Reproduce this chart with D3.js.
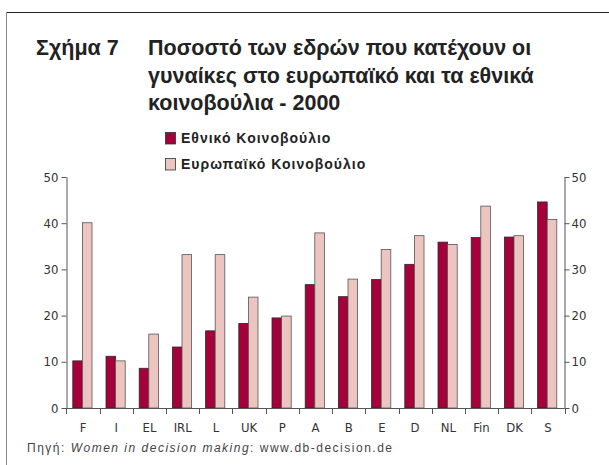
<!DOCTYPE html>
<html><head><meta charset="utf-8">
<script src="https://cdn.jsdelivr.net/npm/d3@7"></script>
<style>
body{margin:0;background:#fff;}
svg{display:block;}
</style></head>
<body>
<svg id="c" width="609" height="465"></svg>
<script>
const categories = ["F","I","EL","IRL","L","UK","P","A","B","E","D","NL","Fin","DK","S"];
const national = [10.2,11.2,8.6,13.2,16.7,18.3,19.5,26.7,24.1,27.8,31.1,35.9,36.9,37.0,44.6];
const european = [40.1,10.2,16.0,33.2,33.2,24.0,19.9,37.9,27.9,34.3,37.3,35.4,43.7,37.3,40.8];
const yTicks = [0,10,20,30,40,50];
const seriesNames = ["Εθνικό Κοινοβούλιο","Ευρωπαϊκό Κοινοβούλιο"];
const titleLines = ["Ποσοστό των εδρών που κατέχουν οι","γυναίκες στο ευρωπαϊκό και τα εθνικά","κοινοβούλια - 2000"];

const colNat = "#a6003a", colEu = "#edc5c0";
const svg = d3.select("#c");

// frame
svg.append("line").attr("x1",6.5).attr("x2",609).attr("y1",12.5).attr("y2",12.5).attr("stroke","#222").attr("stroke-width",1);
svg.append("line").attr("x1",6.5).attr("x2",6.5).attr("y1",12).attr("y2",465).attr("stroke","#888").attr("stroke-width",1);

// title
const tf = "'Liberation Sans', Arial, sans-serif";
svg.append("text").attr("x",36).attr("y",55).attr("font-family",tf).attr("font-weight",700).attr("font-size",21.5).attr("fill","#222").text("Σχήμα 7");
titleLines.forEach((t,i)=>{
  svg.append("text").attr("x",148).attr("y",55+i*27.5).attr("font-family",tf).attr("font-weight",700).attr("font-size",21.5).attr("fill","#222").text(t);
});

// legend
[colNat,colEu].forEach((c,i)=>{
  svg.append("rect").attr("x",165.5).attr("y",132.5+i*26).attr("width",10).attr("height",11.5).attr("fill",c).attr("stroke","#333").attr("stroke-width",0.8);
  svg.append("text").attr("x",181).attr("y",143+i*26).attr("font-family",tf).attr("font-weight",700).attr("font-size",14).attr("letter-spacing",1.0).attr("fill","#222").text(seriesNames[i]);
});

const x = d3.scaleBand().domain(categories).range([66.5,564.5]).padding(0);
const y = d3.scaleLinear().domain([0,50]).range([408,177]);
const bw = 9.6, off = 6.3;

const g = svg.append("g");
categories.forEach((c,i)=>{
  g.append("rect").attr("x",x(c)+off).attr("y",y(national[i])).attr("width",bw).attr("height",y(0)-y(national[i]))
    .attr("fill",colNat).attr("stroke","#2a2a2a").attr("stroke-width",0.8);
  g.append("rect").attr("x",x(c)+off+bw).attr("y",y(european[i])).attr("width",bw).attr("height",y(0)-y(european[i]))
    .attr("fill",colEu).attr("stroke","#555").attr("stroke-width",0.8);
});

const af = "'DejaVu Sans Condensed','DejaVu Sans',sans-serif";
const axisStyle = sel=>{
  sel.select(".domain").attr("stroke","#555");
  sel.selectAll(".tick line").attr("stroke","#555");
  sel.selectAll("text").attr("font-family",af).attr("font-size",13).attr("fill","#333");
};
svg.append("g").attr("transform","translate(66.5,0)")
  .call(d3.axisLeft(y).tickValues(yTicks).tickSize(5).tickSizeOuter(0).tickPadding(3)).call(axisStyle);
svg.append("g").attr("transform","translate(564.5,0)")
  .call(d3.axisRight(y).tickValues(yTicks).tickSize(5).tickSizeOuter(0).tickPadding(2)).call(axisStyle);

// x axis: line, ticks at band boundaries, labels centered
const xa = svg.append("g").attr("transform","translate(0,408)");
xa.append("line").attr("x1",66.5).attr("x2",564.5).attr("y1",0.5).attr("y2",0.5).attr("stroke","#555");
const bounds = categories.map(c=>x(c)).concat([x.range()[1]]);
xa.selectAll("line.tk").data(bounds).join("line").attr("class","tk")
  .attr("x1",d=>Math.round(d)+0.5).attr("x2",d=>Math.round(d)+0.5).attr("y1",0).attr("y2",6).attr("stroke","#555");
xa.selectAll("text").data(categories).join("text")
  .attr("x",d=>x(d)+x.bandwidth()/2).attr("y",24).attr("text-anchor","middle")
  .attr("font-family",af).attr("font-size",13).attr("fill","#333").text(d=>d);

// source
const src = svg.append("text").attr("x",27).attr("y",452).attr("font-family",tf).attr("font-size",12).attr("letter-spacing",1.5).attr("fill","#444");
src.append("tspan").text("Πηγή: ");
src.append("tspan").attr("font-style","italic").text("Women in decision making");
src.append("tspan").text(": www.db-decision.de");
</script>
</body></html>
